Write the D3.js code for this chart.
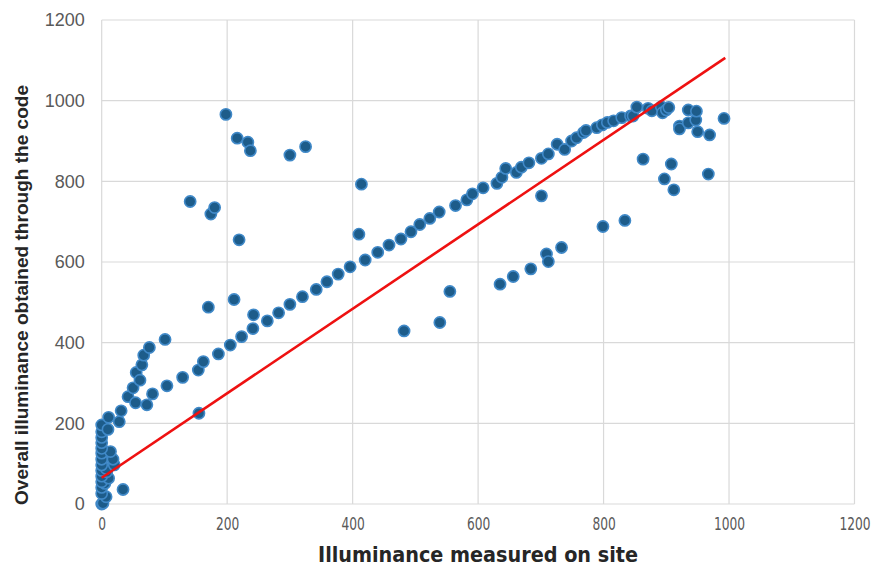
<!DOCTYPE html>
<html>
<head>
<meta charset="utf-8">
<script src="https://cdn.jsdelivr.net/npm/d3@7"></script>
<style>
  body { margin: 0; background: #fff; }
  svg { display: block; }
</style>
</head>
<body>
<div id="chart"></div>
<script>
// measured on site (x) vs computed by the code (y)
const measured = [
  0, 2, 7, 0, 0, 5, 0, 11, 0, 8, 0, 7, 0, 20, 0, 18, 0, 14, 0, 0, 0, 0, 0, 10, 11, 28, 31, 34,
  42, 50, 54, 55, 61, 64, 67, 72, 76, 81, 101, 104, 129, 154, 155, 162, 170, 186, 205, 211,
  223, 241, 242, 264, 282, 300, 320, 342, 359, 377, 396, 420, 440, 458, 477, 493, 507, 523,
  538, 564, 582, 591, 608, 630, 638, 644, 661, 669, 681, 701, 712, 726, 738, 749, 757, 768,
  772, 789, 798, 806, 816, 829, 843, 847, 853, 871, 877, 892, 894, 900, 904, 921, 921, 935,
  935, 947, 948, 950, 969, 992,
  141, 174, 180, 198, 216, 219, 233, 237, 300, 325, 410, 414, 701, 863, 897, 908, 912, 967,
  482, 539, 555, 635, 656, 684, 709, 712, 733, 799, 834
];
const computed = [
  0, 2, 18, 26, 41, 51, 55, 64, 69, 80, 83, 88, 97, 97, 111, 111, 126, 130, 138, 152, 165, 179, 196, 185, 215, 204, 231, 36,
  266, 288, 251, 326, 307, 345, 369, 246, 388, 273, 408, 293, 314, 332, 225, 353, 488, 372, 394, 507,
  415, 435, 469, 454, 474, 495, 514, 532, 551, 570, 588, 605, 624, 642, 657, 675, 693, 708,
  724, 740, 754, 769, 784, 795, 810, 832, 822, 835, 846, 857, 868, 892, 879, 900, 908, 921,
  926, 933, 940, 946, 950, 958, 962, 962, 984, 981, 975, 985, 970, 977, 983, 937, 930, 977,
  945, 952, 974, 923, 915, 956,
  750, 719, 735, 966, 907, 655, 897, 876, 865, 886, 669, 793, 764, 855, 806, 843, 779, 818,
  429, 450, 527, 545, 564, 583, 620, 601, 636, 688, 703
];
// linear trend line end points
const trendX = [0, 994];
const trendY = [65, 1106];
const ticks = [0, 200, 400, 600, 800, 1000, 1200];

const width = 885, height = 568;
const svg = d3.select('#chart').append('svg')
  .attr('width', width)
  .attr('height', height);

const x = d3.scaleLinear().domain([0, 1200]).range([101.7, 854.5]);
const y = d3.scaleLinear().domain([0, 1200]).range([504, 20]);

// grid
svg.append('g').selectAll('line')
  .data(ticks).enter().append('line')
  .attr('x1', x(0)).attr('x2', x(1200))
  .attr('y1', d => y(d)).attr('y2', d => y(d))
  .attr('stroke', '#d9d9d9').attr('stroke-width', 1.2);
svg.append('g').selectAll('line')
  .data(ticks).enter().append('line')
  .attr('y1', y(0)).attr('y2', y(1200))
  .attr('x1', d => x(d)).attr('x2', d => x(d))
  .attr('stroke', '#d9d9d9').attr('stroke-width', 1.2);

// axes (labels only)
const yAxis = svg.append('g')
  .attr('transform', `translate(${x(0)},0)`)
  .call(d3.axisLeft(y).tickValues(ticks).tickFormat(d3.format('d')).tickSize(0).tickPadding(17));
yAxis.select('.domain').remove();
yAxis.selectAll('text')
  .style('font-family', '"Liberation Sans", Arial, sans-serif')
  .style('font-size', '18px')
  .attr('fill', '#595959');

const xAxis = svg.append('g')
  .attr('transform', `translate(0,${y(0)})`)
  .call(d3.axisBottom(x).tickValues(ticks).tickFormat(d3.format('d')).tickSize(0).tickPadding(14));
xAxis.select('.domain').remove();
xAxis.selectAll('text')
  .style('font-family', '"DejaVu Sans Condensed", "DejaVu Sans", sans-serif')
  .style('font-stretch', 'condensed')
  .style('font-size', '17px')
  .attr('fill', '#595959')
  .attr('transform', 'scale(0.8,1)');

// points
svg.append('g').selectAll('circle')
  .data(measured.map((m, i) => [m, computed[i]]))
  .enter().append('circle')
  .attr('cx', d => x(d[0]))
  .attr('cy', d => y(d[1]))
  .attr('r', 5.6)
  .attr('fill', '#1d5c8a')
  .attr('stroke', '#4089c8')
  .attr('stroke-width', 1.6);

// trend line
svg.append('path')
  .datum(trendX.map((v, i) => [v, trendY[i]]))
  .attr('d', d3.line().x(d => x(d[0])).y(d => y(d[1])))
  .attr('fill', 'none')
  .attr('stroke', '#ee1111')
  .attr('stroke-width', 2.6);

// titles
svg.append('text')
  .attr('x', 478).attr('y', 562)
  .attr('text-anchor', 'middle')
  .attr('textLength', 320)
  .attr('lengthAdjust', 'spacingAndGlyphs')
  .style('font-family', '"DejaVu Sans Condensed", "DejaVu Sans", sans-serif')
  .style('font-weight', 'bold')
  .style('font-size', '21px')
  .attr('fill', '#262626')
  .text('Illuminance measured on site');

svg.append('text')
  .attr('transform', 'translate(28,295) rotate(-90)')
  .attr('text-anchor', 'middle')
  .attr('textLength', 420)
  .attr('lengthAdjust', 'spacingAndGlyphs')
  .style('font-family', '"Liberation Sans", Arial, sans-serif')
  .style('font-weight', 'bold')
  .style('font-size', '17.5px')
  .attr('fill', '#262626')
  .text('Overall illuminance obtained through the code');
</script>
</body>
</html>
